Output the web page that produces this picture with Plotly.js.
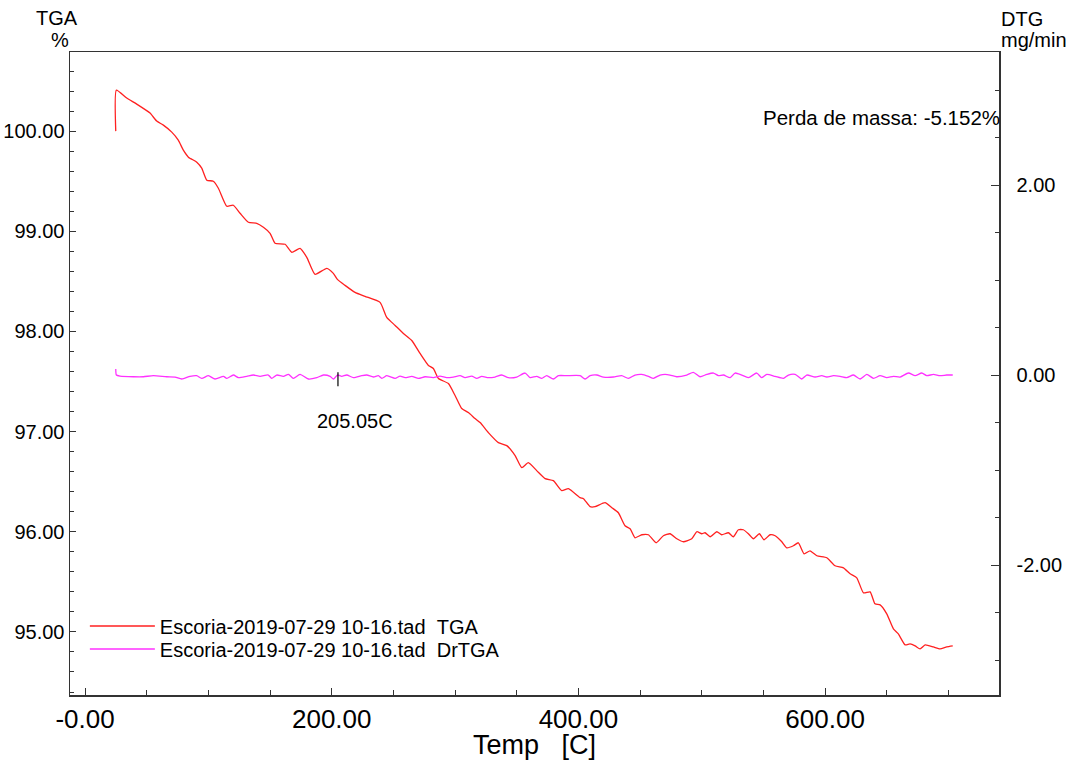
<!DOCTYPE html>
<html>
<head>
<meta charset="utf-8">
<script src="https://cdn.plot.ly/plotly-3.0.1.min.js"></script>
<style>
  html, body { margin: 0; padding: 0; background: #fff; }
  #chart { width: 1074px; height: 760px; }
</style>
</head>
<body>
<div id="chart"></div>
<script>
// TGA mass curve (%) vs furnace temperature (C)
const tgaTemp = [
  24.9, 25.4, 33.8, 41.9, 52.7, 58.1, 63.5, 70.3, 75.6, 79.7,
  83.8, 90.6, 94.6, 98.7, 104.0, 108.1, 114.9, 120.2, 125.7, 132.4,
  139.2, 144.6, 150.0, 154.1, 162.2, 167.6, 174.3, 179.8, 186.5, 196.0,
  201.3, 204.6, 210.8, 218.9, 227.0, 239.2, 244.6, 251.4, 258.1, 264.9,
  271.6, 278.4, 282.4, 286.5, 294.6, 300.0, 305.4, 310.8, 316.2, 320.3,
  327.0, 335.1, 341.9, 348.7, 354.1, 359.4, 366.2, 373.0, 379.7, 386.5,
  391.9, 401.4, 404.1, 409.5, 413.5, 421.6, 427.1, 432.4, 437.8, 441.9,
  445.9, 451.4, 456.7, 463.0, 468.9, 474.3, 479.8, 485.1, 491.9, 496.0,
  500.0, 502.7, 506.8, 512.2, 516.2, 521.6, 525.6, 529.7, 533.7, 537.8,
  541.9, 546.7, 550.5, 555.4, 559.5, 564.9, 568.9, 574.3, 578.3, 583.0,
  587.8, 593.3, 601.4, 608.1, 614.9, 620.3, 625.7, 631.1, 636.5, 640.5,
  644.6, 650.0, 655.4, 659.4, 664.9, 668.9, 673.0, 677.0, 681.1, 687.8,
  693.2, 698.6, 703.5
];
const tgaMass = [
  100.00, 100.41, 100.33, 100.27, 100.18, 100.10, 100.06, 99.99, 99.91, 99.81,
  99.74, 99.69, 99.63, 99.51, 99.50, 99.43, 99.25, 99.26, 99.18, 99.09,
  99.08, 99.04, 98.98, 98.88, 98.87, 98.79, 98.83, 98.74, 98.57, 98.63,
  98.58, 98.52, 98.46, 98.39, 98.35, 98.29, 98.14, 98.06, 97.98, 97.91,
  97.78, 97.66, 97.63, 97.53, 97.48, 97.36, 97.23, 97.19, 97.13, 97.09,
  96.99, 96.89, 96.86, 96.76, 96.64, 96.69, 96.61, 96.53, 96.51, 96.41,
  96.43, 96.34, 96.33, 96.25, 96.25, 96.29, 96.24, 96.19, 96.06, 96.03,
  95.94, 95.97, 95.97, 95.89, 95.96, 95.98, 95.93, 95.90, 95.93, 96.00,
  95.98, 95.99, 95.95, 96.00, 95.97, 95.99, 95.95, 96.02, 96.02, 95.98,
  95.93, 95.98, 95.92, 95.97, 95.96, 95.90, 95.84, 95.86, 95.89, 95.78,
  95.81, 95.76, 95.74, 95.66, 95.64, 95.58, 95.54, 95.39, 95.40, 95.28,
  95.27, 95.18, 95.03, 94.98, 94.87, 94.88, 94.86, 94.83, 94.87, 94.85,
  94.83, 94.85, 94.86
];

// Derivative (DrTGA) in mg/min
const dtgTemp = [
  24.9, 25.4, 28.4, 39.2, 47.3, 55.4, 66.2, 73.0, 78.4, 85.1,
  90.5, 94.6, 100.0, 105.4, 112.2, 114.9, 120.3, 124.3, 131.1, 136.5,
  141.9, 148.6, 151.3, 155.4, 160.8, 164.9, 168.9, 174.3, 181.1, 187.9,
  193.3, 198.7, 201.4, 204.6, 208.1, 212.2, 217.6, 224.3, 228.4, 233.8,
  237.8, 240.6, 244.6, 247.3, 251.4, 255.4, 259.5, 264.9, 270.3, 275.7,
  282.4, 287.8, 293.2, 298.6, 304.1, 308.1, 313.5, 317.6, 321.6, 327.0,
  332.4, 337.8, 343.2, 350.0, 356.8, 360.8, 366.2, 370.3, 374.3, 379.7,
  383.8, 390.5, 401.4, 405.4, 409.5, 414.9, 420.3, 428.4, 435.1, 440.5,
  445.9, 451.4, 456.8, 460.8, 466.2, 470.3, 474.3, 479.7, 487.8, 493.2,
  498.6, 504.1, 509.5, 513.5, 517.6, 523.0, 527.0, 532.4, 537.8, 544.6,
  548.6, 552.7, 559.5, 566.2, 570.3, 575.7, 581.1, 585.1, 591.9, 597.3,
  601.4, 606.8, 612.2, 617.6, 623.0, 628.4, 633.8, 639.2, 644.6, 650.0,
  655.4, 660.8, 667.6, 673.0, 678.4, 682.4, 687.8, 693.2, 698.6, 703.5
];
const dtgRate = [
  0.063, 0.000, -0.011, -0.018, -0.018, -0.007, -0.018, -0.021, -0.042, -0.014,
  -0.007, -0.035, -0.007, -0.042, -0.014, -0.035, 0.000, -0.028, -0.014, 0.000,
  -0.014, 0.000, -0.035, 0.000, -0.014, 0.007, -0.035, 0.007, -0.042, -0.028,
  0.000, -0.014, -0.042, 0.000, -0.014, 0.000, -0.028, -0.007, 0.000, -0.021,
  -0.007, -0.035, -0.007, -0.018, -0.035, -0.011, -0.028, -0.014, -0.035, -0.018,
  -0.028, -0.011, -0.028, -0.021, -0.007, -0.028, -0.011, -0.035, -0.014, -0.028,
  -0.021, 0.000, -0.028, -0.021, 0.021, -0.028, -0.014, -0.035, -0.007, -0.042,
  -0.007, -0.007, -0.007, -0.042, -0.007, 0.000, -0.021, -0.021, -0.007, -0.035,
  0.000, 0.007, -0.014, -0.035, 0.000, 0.007, 0.000, -0.018, 0.000, 0.028,
  -0.018, 0.007, 0.021, -0.007, 0.000, -0.028, 0.021, 0.000, -0.028, 0.021,
  -0.028, 0.007, -0.014, -0.035, 0.000, 0.007, -0.042, 0.000, -0.021, -0.007,
  -0.021, -0.007, -0.014, -0.028, 0.000, -0.042, 0.007, -0.035, -0.007, -0.028,
  -0.014, -0.021, 0.021, -0.007, 0.021, -0.007, 0.007, -0.007, 0.000, 0.000
];

// Peak marker on the DTG curve
const peakTemp = [205.05];
const peakRate = [-0.045];
const peakLabel = '205.05C';

const massLossText = 'Perda de massa: -5.152%';

// Axis ticks
const xTickVals = [0, 200, 400, 600];
const xTickText = ['-0.00', '200.00', '400.00', '600.00'];
const y2TickVals = [-2, 0, 2];
const y2TickText = ['-2.00', '0.00', '2.00'];

const legendTGA = 'Escoria-2019-07-29 10-16.tad\u00a0\u00a0TGA';
const legendDTG = 'Escoria-2019-07-29 10-16.tad\u00a0\u00a0DrTGA';

const FONT = 'Liberation Sans, Arial, sans-serif';
const AXIS = '#333333';
const FS = 20;

const traces = [
  {
    x: tgaTemp, y: tgaMass, name: legendTGA, type: 'scatter', mode: 'lines',
    line: { color: '#ff2020', width: 1.3, shape: 'spline', smoothing: 0.5 },
    yaxis: 'y', legend: 'legend', hoverinfo: 'x+y'
  },
  {
    x: dtgTemp, y: dtgRate, name: legendDTG, type: 'scatter', mode: 'lines',
    line: { color: '#ff30ff', width: 1.3, shape: 'spline', smoothing: 0.6 },
    yaxis: 'y2', legend: 'legend2', hoverinfo: 'x+y'
  },
  {
    x: peakTemp, y: peakRate, type: 'scatter', mode: 'markers', yaxis: 'y2',
    showlegend: false, hoverinfo: 'x',
    marker: { symbol: 'line-ns-open', size: 10, color: '#000', line: { color: '#000', width: 1.2 } }
  }
];

// Legend rows are placed separately to keep the compact row spacing
const legendBase = {
  xanchor: 'left', yanchor: 'middle',
  bgcolor: 'rgba(0,0,0,0)', font: { family: FONT, size: FS, color: '#000' },
  itemwidth: 65
};

const layout = {
  width: 1074, height: 760,
  margin: { l: 70, r: 75, t: 52, b: 65 },
  paper_bgcolor: '#fff', plot_bgcolor: '#fff',
  font: { family: FONT, color: '#000', size: FS },
  showlegend: true,
  legend: Object.assign({}, legendBase, { x: 0.016, y: (695 - 626) / 643 }),
  legend2: Object.assign({}, legendBase, { x: 0.016, y: (695 - 649) / 643 }),
  xaxis: {
    range: [-12.2, 741],
    tickmode: 'array', tickvals: xTickVals, ticktext: xTickText,
    ticks: 'inside', ticklen: 7, tickwidth: 1, tickcolor: AXIS,
    minor: { dtick: 50, tick0: 0, ticks: 'inside', ticklen: 5, tickcolor: AXIS, showgrid: false },
    showline: true, linecolor: AXIS, linewidth: 1.5, mirror: true,
    showgrid: false, zeroline: false,
    tickfont: { family: FONT, size: 26, color: '#000' },
    title: { text: 'Temp\u00a0\u00a0\u00a0[C]', font: { family: FONT, size: 27, color: '#000' }, standoff: 0 }
  },
  yaxis: {
    range: [94.37, 100.79],
    tick0: 0, dtick: 1, tickformat: '.2f',
    ticks: 'inside', ticklen: 6, tickwidth: 1, tickcolor: AXIS,
    minor: { dtick: 0.2, tick0: 0, ticks: 'inside', ticklen: 4, tickcolor: AXIS, showgrid: false },
    showline: true, linecolor: AXIS, linewidth: 1.5,
    showgrid: false, zeroline: false,
    tickfont: { family: FONT, size: FS, color: '#000' }
  },
  yaxis2: {
    overlaying: 'y', side: 'right',
    range: [-3.368, 3.4],
    tickmode: 'array', tickvals: y2TickVals, ticktext: y2TickText,
    ticks: 'inside', ticklen: 8, tickwidth: 1, tickcolor: AXIS,
    minor: { dtick: 0.5, tick0: 0, ticks: 'inside', ticklen: 4, tickcolor: AXIS, showgrid: false },
    showline: true, linecolor: AXIS, linewidth: 1.5,
    showgrid: false, zeroline: false, ticklabelstandoff: 12,
    tickfont: { family: FONT, size: FS, color: '#000' }
  },
  annotations: [
    { text: 'TGA', xref: 'paper', yref: 'paper', x: -0.014, y: 1.0529,
      xanchor: 'center', yanchor: 'middle', showarrow: false, font: { size: FS } },
    { text: '%', xref: 'paper', yref: 'paper', x: -0.0108, y: 1.0187,
      xanchor: 'center', yanchor: 'middle', showarrow: false, font: { size: FS } },
    { text: 'DTG', xref: 'paper', yref: 'paper', x: 1.0, y: 1.0513,
      xanchor: 'left', yanchor: 'middle', showarrow: false, font: { size: FS } },
    { text: 'mg/min', xref: 'paper', yref: 'paper', x: 1.0, y: 1.0187,
      xanchor: 'left', yanchor: 'middle', showarrow: false, font: { size: FS } },
    { text: massLossText, xref: 'paper', yref: 'paper', x: 1.0, y: 0.8974,
      xanchor: 'right', yanchor: 'middle', xshift: 3, showarrow: false, font: { size: 20.5 } },
    { text: peakLabel, xref: 'x', yref: 'y2', x: peakTemp[0], y: peakRate[0],
      xanchor: 'center', yanchor: 'middle', xshift: 17, yshift: -42,
      showarrow: false, font: { size: FS } }
  ]
};

Plotly.newPlot('chart', traces, layout, { displayModeBar: false, staticPlot: true });
</script>
</body>
</html>
